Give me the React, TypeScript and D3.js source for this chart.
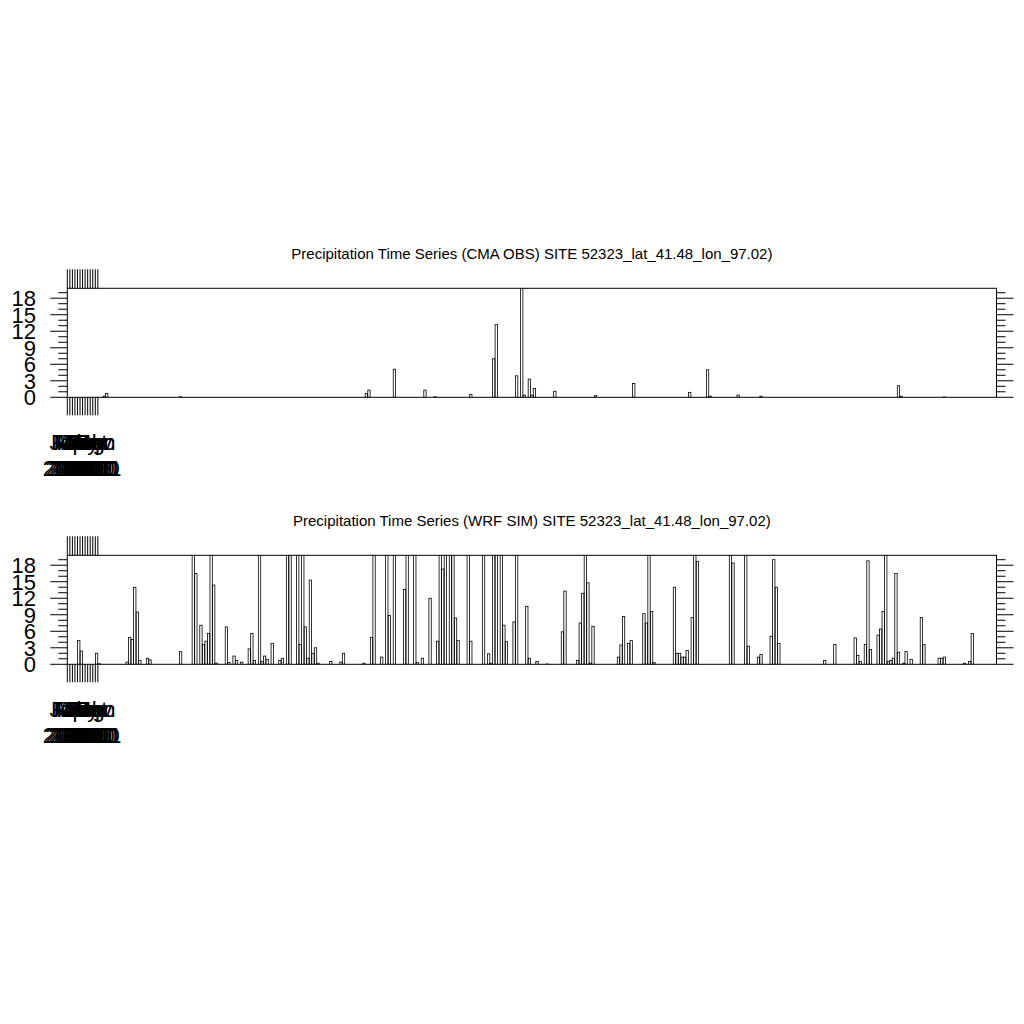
import React from "react";
import * as d3 from "d3";

// ---- Data ----
const obsDays = [14, 15, 44, 117, 118, 128, 140, 144, 158, 167, 168, 176, 178, 179, 181, 182, 183, 191, 207, 222, 244, 251, 252, 263, 272, 326, 327, 344];
const obsValues = [0.2, 0.7, 0.1, 0.7, 1.3, 5.1, 1.3, 0.1, 0.5, 7.0, 13.2, 3.9, 19.8, 0.4, 3.3, 0.4, 1.6, 1.1, 0.3, 2.5, 0.9, 5.0, 0.2, 0.4, 0.2, 2.1, 0.2, 0.05];

const simDays = [
  4, 5, 11, 12, 23, 24, 25, 26, 27, 28, 31, 32, 44, 49, 50, 52, 53, 54, 55, 56, 57, 58, 62, 63, 65, 66, 68, 71, 72, 73, 75, 76, 77, 78, 80, 83, 84, 86, 87, 90, 91, 92, 93, 94, 95, 96, 97, 98, 103, 107, 108,
  116, 119, 120, 123, 125, 126, 128, 132, 133, 136, 137, 139, 142, 145, 146, 147, 148, 150, 151, 152, 153, 157, 158, 163, 165, 166, 167, 168, 170, 171, 172, 175, 176, 180, 181, 184, 188, 194, 195, 200, 201, 202, 203, 204, 205, 206, 216, 217, 218, 220, 221, 226, 227, 228, 229, 230,
  238, 239, 240, 241, 242, 243, 245, 246, 247, 260, 261, 266, 267, 271, 272, 276, 277, 278, 279, 297, 301, 309, 310, 311, 313, 314, 315, 318, 319, 320, 321, 322, 323, 324, 325, 326, 328, 329, 331, 335, 336, 342, 343, 344, 352, 354, 355,
];
const simValues = [
  4.3, 2.4, 2.0, 0.1, 0.4, 4.9, 4.5, 14.0, 9.5, 0.7, 1.1, 0.8, 2.3, 25, 16.5, 7.1, 3.6, 4.2, 5.6, 28, 14.4, 0.2, 6.8, 0.3, 1.5, 0.7, 0.4, 2.8, 5.6, 0.7, 23, 0.5, 1.5, 0.9, 3.8, 0.7, 1.1, 30, 22, 26, 3.6, 33, 6.8, 1.1, 15.3, 2.0, 3.0, 0.2, 0.5, 0.4, 2.0,
  0.2, 4.9, 24, 1.3, 27, 8.9, 21, 13.6, 29, 22, 0.3, 1.1, 12.0, 4.2, 35, 17.3, 24, 26, 31, 8.4, 4.3, 23, 4.2, 27, 1.9, 0.2, 22, 30, 25, 7.1, 4.1, 7.7, 28, 10.5, 1.1, 0.5, 0.05, 5.9, 13.3, 0.7, 7.5, 12.9, 24, 14.8, 0.2, 6.9, 1.3, 3.5, 8.7, 3.8, 4.3, 9.2, 7.5, 26, 9.6, 0.3,
  14.0, 2.0, 2.0, 1.3, 1.3, 2.5, 8.5, 22, 18.7, 25, 18.4, 23, 3.3, 1.3, 1.8, 5.1, 19.0, 14.0, 3.8, 0.7, 3.6, 4.8, 1.6, 0.5, 3.6, 18.8, 2.7, 5.3, 6.4, 9.6, 27, 0.5, 0.7, 1.1, 16.5, 2.2, 0.2, 2.3, 0.9, 8.5, 3.6, 1.1, 1.1, 1.3, 0.2, 0.5, 5.6,
];

const monthLabels = ["Jan", "Feb", "Mar", "Apr", "May", "Jun", "Jul", "Aug", "Sep", "Oct", "Nov", "Dec", "Jan"];
const yearLabels = ["2010", "2010", "2010", "2010", "2010", "2010", "2010", "2010", "2010", "2010", "2010", "2010", "2011"];
const monthTickValues = [0, 1, 2, 3, 4, 5, 6, 7, 8, 9, 10, 11, 12];
const yMajorTicks = [0, 3, 6, 9, 12, 15, 18];
const yMinorTicks = [1, 2, 4, 5, 7, 8, 10, 11, 13, 14, 16, 17, 19];
const titles = [
  "Precipitation Time Series (CMA OBS) SITE 52323_lat_41.48_lon_97.02)",
  "Precipitation Time Series (WRF SIM) SITE 52323_lat_41.48_lon_97.02)",
];
const nDays = 365;
const yMax = 19.8;

// ---- Layout ----
const left = 67.3;
const right = 996.5;
const panelH = 109;
const panelTops = [288.3, 555.3];
const font = "'Liberation Sans', Arial, Helvetica, sans-serif";

function Panel({ top, days, values, title, idx }: any) {
  const bottom = top + panelH;
  const x = d3.scaleLinear().domain([0, nDays]).range([left, right]);
  const y = d3.scaleLinear().domain([0, yMax]).range([bottom, top]);
  const step = x(1) - x(0);
  const bw = step * 0.92;
  const clipId = `clip${idx}`;
  return (
    <g>
      <defs>
        <clipPath id={clipId}>
          <rect x={left} y={top} width={right - left} height={panelH} />
        </clipPath>
      </defs>
      <text x={(left + right) / 2} y={top - 29.5} textAnchor="middle" fontFamily={font} fontSize={15} fill="#000">
        {title}
      </text>
      <g clipPath={`url(#${clipId})`}>
        {days.map((d: number, i: number) => {
          const v = Math.min(values[i], yMax + 1);
          const cx = x(d + 0.5);
          return (
            <rect key={i} x={cx - bw / 2} y={y(v)} width={bw} height={Math.max(0, y(0) - y(v))}
              fill="none" stroke="#000" strokeWidth={0.8} />
          );
        })}
      </g>
      <rect x={left} y={top} width={right - left} height={panelH} fill="none" stroke="#000" strokeWidth={1} />
      {yMajorTicks.map((t) => (
        <g key={"M" + t}>
          <line x1={left - 17} x2={left} y1={y(t)} y2={y(t)} stroke="#000" strokeWidth={1} />
          <line x1={right} x2={right + 17} y1={y(t)} y2={y(t)} stroke="#000" strokeWidth={1} />
          <text x={36} y={y(t)} dy="0.36em" textAnchor="end" fontFamily={font} fontSize={22} fill="#000">{t}</text>
        </g>
      ))}
      {yMinorTicks.map((t) => (
        <g key={"m" + t}>
          <line x1={left - 9} x2={left} y1={y(t)} y2={y(t)} stroke="#000" strokeWidth={1} />
          <line x1={right} x2={right + 9} y1={y(t)} y2={y(t)} stroke="#000" strokeWidth={1} />
        </g>
      ))}
      {monthTickValues.map((t, i) => (
        <g key={"x" + i}>
          <line x1={x(t)} x2={x(t)} y1={top - 19} y2={top} stroke="#000" strokeWidth={1} />
          <line x1={x(t)} x2={x(t)} y1={bottom} y2={bottom + 18} stroke="#000" strokeWidth={1} />
          <text x={x(t)} y={bottom + 53} textAnchor="middle" fontFamily={font} fontSize={22} fill="#000">{monthLabels[i]}</text>
          <text x={x(t)} y={bottom + 79} textAnchor="middle" fontFamily={font} fontSize={22} fill="#000">{yearLabels[i]}</text>
        </g>
      ))}
    </g>
  );
}

export default function App() {
  return (
    <svg width={1024} height={1024} style={{ position: "absolute", left: 0, top: 0, background: "#fff" }}>
      <rect x={0} y={0} width={1024} height={1024} fill="#fff" />
      <Panel idx={0} top={panelTops[0]} days={obsDays} values={obsValues} title={titles[0]} />
      <Panel idx={1} top={panelTops[1]} days={simDays} values={simValues} title={titles[1]} />
    </svg>
  );
}
